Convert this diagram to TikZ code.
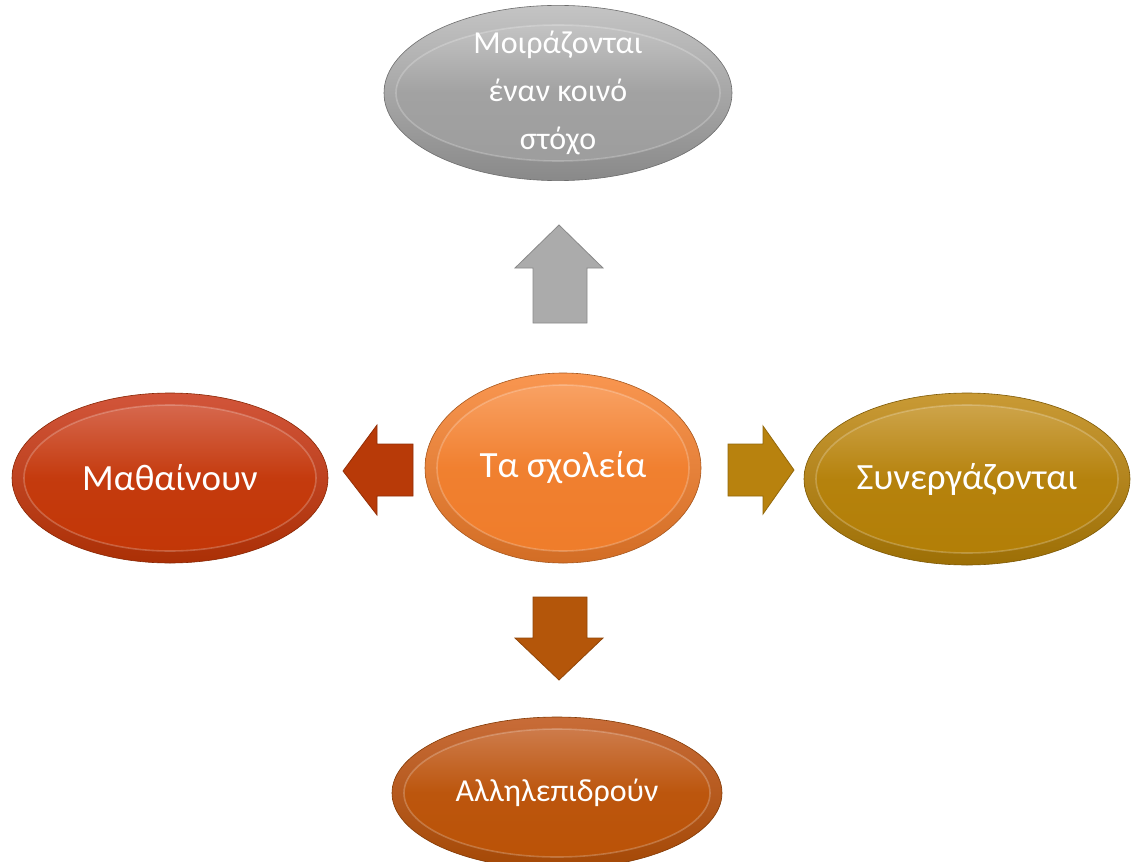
\documentclass[tikz,border=0pt]{standalone}
\usepackage{fontspec}
\setmainfont{Carlito}
\usetikzlibrary{shapes.geometric}
\definecolor{grayL}{HTML}{C4C4C4}\definecolor{grayD}{HTML}{9C9C9C}
\definecolor{oraL}{HTML}{F99650}\definecolor{oraD}{HTML}{EF7C2A}
\definecolor{redL}{HTML}{D2553A}\definecolor{redD}{HTML}{C23606}
\definecolor{golL}{HTML}{C99A35}\definecolor{golD}{HTML}{B27E06}
\definecolor{brnL}{HTML}{C86C38}\definecolor{brnD}{HTML}{BA5206}
\definecolor{arGray}{HTML}{ABABAB}\definecolor{arRed}{HTML}{B83A08}
\definecolor{arGold}{HTML}{B8820E}\definecolor{arBrn}{HTML}{B4560A}
\tikzset{
  bub/.style n args={4}{ellipse, inner sep=0pt,
    minimum width=2*#1 pt, minimum height=2*#2 pt,
    top color=#3, bottom color=#4!88!black, draw=#4!70!black, line width=0.6pt,
    text=white,
    path picture={
      \shade[top color=#3!85!white, bottom color=#4, middle color=#4!85!#3]
        (path picture bounding box.center) ellipse [x radius=#1pt-12pt, y radius=#2pt-12pt];
      \draw[white, opacity=0.22, line width=1.6pt]
        (path picture bounding box.center) ellipse [x radius=#1pt-12pt, y radius=#2pt-12pt];
    }},
  big/.style={font=\fontsize{37}{42}\selectfont},
  small/.style={font=\fontsize{32}{48}\selectfont, align=center},
  blockarrow/.style={fill=#1, draw=#1!80!black, line width=0.8pt, line join=miter}
}
\begin{document}
\begin{tikzpicture}[x=1pt,y=-1pt]
\useasboundingbox[fill=white] (0,0) rectangle (1131,861);
% arrows
\filldraw[blockarrow=arGray] (533,323) -- (533,268) -- (515,268) -- (559,225) -- (603,268) -- (587,268) -- (587,323) -- cycle;
\filldraw[blockarrow=arBrn] (533,597) -- (533,638) -- (515,638) -- (559,680) -- (603,638) -- (587,638) -- (587,597) -- cycle;
\filldraw[blockarrow=arRed] (413,444) -- (377,444) -- (377,425) -- (343,471) -- (377,515) -- (377,496) -- (413,496) -- cycle;
\filldraw[blockarrow=arGold] (728,444) -- (763,444) -- (763,426) -- (794,470) -- (763,514) -- (763,496) -- (728,496) -- cycle;
% ellipses
\node[bub={174}{80}{grayL}{grayD}, small] (goal) at (558,93) {Μοιράζονται\\έναν κοινό\\στόχο};
\node[bub={138}{95}{oraL}{oraD}, big] (school) at (563,468) {Τα σχολεία};
\node[bub={158}{85}{redL}{redD}, big] (learn) at (170,478) {Μαθαίνουν};
\node[bub={163}{86}{golL}{golD}, big] (coop) at (967,479) {Συνεργάζονται};
\node[bub={165}{76}{brnL}{brnD}, font=\fontsize{32}{36}\selectfont] (inter) at (557,793) {Αλληλεπιδρούν};
\end{tikzpicture}
\end{document}
